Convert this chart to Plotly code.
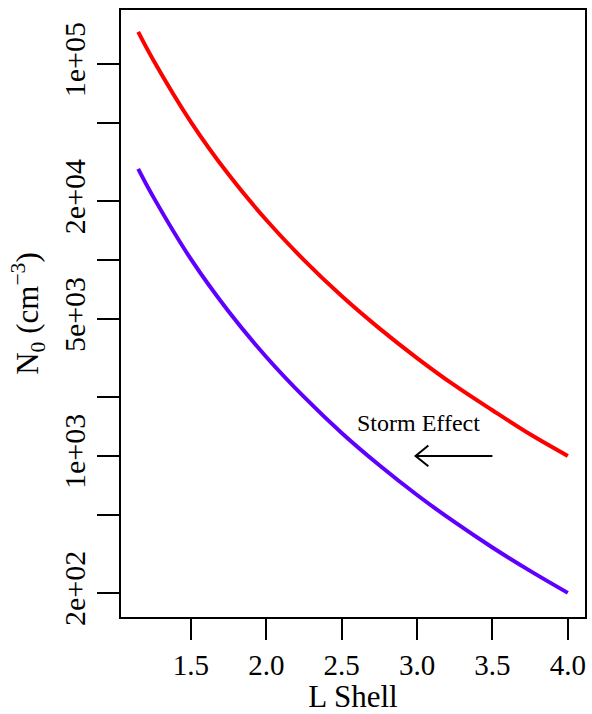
import math
import plotly.graph_objects as go

# L shell values and densities
L_shell = [1.15, 1.25, 1.5, 1.75, 2.0, 2.25, 2.5, 2.75, 3.0, 3.25, 3.5, 3.75, 4.0]
n0_red = [146000, 105000, 50600, 27300, 16000, 9990, 6550, 4480, 3160, 2290, 1710, 1290, 1000]
n0_purple = [29200, 21000, 10100, 5460, 3200, 2000, 1310, 896, 632, 459, 341, 259, 200]

x_ticks = [1.5, 2.0, 2.5, 3.0, 3.5, 4.0]
x_tick_labels = ["1.5", "2.0", "2.5", "3.0", "3.5", "4.0"]
y_ticks = [100000, 50000, 20000, 10000, 5000, 2000, 1000, 500, 200]
y_tick_labels = ["1e+05", "", "2e+04", "", "5e+03", "", "1e+03", "", "2e+02"]

# Storm effect arrow (tail, tip) and label
arrow_tail = (3.5, 1000)
arrow_tip = (2.99, 1000)
label_pos = (3.01, 1470)

FONT = "Liberation Serif, Times New Roman, serif"

fig = go.Figure()
fig.add_trace(go.Scatter(x=L_shell, y=n0_red, mode="lines", line=dict(color="#FF0000", width=4, shape="spline"),
                         showlegend=False, hoverinfo="skip"))
fig.add_trace(go.Scatter(x=L_shell, y=n0_purple, mode="lines", line=dict(color="#5F00FF", width=4, shape="spline"),
                         showlegend=False, hoverinfo="skip"))

# arrow shaft and open head
head_dx = 0.085
head_f = 1.13
fig.add_trace(go.Scatter(x=[arrow_tail[0], arrow_tip[0]], y=[arrow_tail[1], arrow_tip[1]], mode="lines",
                         line=dict(color="black", width=2), showlegend=False, hoverinfo="skip"))
fig.add_trace(go.Scatter(x=[arrow_tip[0] + head_dx, arrow_tip[0], arrow_tip[0] + head_dx],
                         y=[arrow_tip[1] * head_f, arrow_tip[1], arrow_tip[1] / head_f], mode="lines",
                         line=dict(color="black", width=2), showlegend=False, hoverinfo="skip"))

fig.add_annotation(x=label_pos[0], y=math.log10(label_pos[1]), text="Storm Effect", showarrow=False,
                   font=dict(family=FONT, size=24, color="black"), xanchor="center", yanchor="middle")

fig.update_layout(
    width=592, height=714,
    margin=dict(l=121, r=7, t=10, b=97),
    paper_bgcolor="white", plot_bgcolor="white",
    font=dict(family=FONT, color="black"),
    xaxis=dict(range=[1.036, 4.114], tickvals=x_ticks, ticktext=x_tick_labels, ticks="outside",
               ticklen=21, tickwidth=2, tickcolor="black", showgrid=False, zeroline=False,
               showline=True, linecolor="black", linewidth=2, mirror=True, automargin=False,
               tickfont=dict(family=FONT, size=29, color="black"),
               title=dict(text="L Shell", font=dict(family=FONT, size=31, color="black"), standoff=12)),
    yaxis=dict(type="log", range=[2.178, 5.276], tickvals=y_ticks, ticktext=y_tick_labels, ticks="outside",
               ticklen=22, tickwidth=2, tickcolor="black", showgrid=False, zeroline=False,
               showline=True, linecolor="black", linewidth=2, mirror=True, tickangle=-90, automargin=False,
               tickfont=dict(family=FONT, size=30, color="black"),
               title=dict(text="N<sub>0</sub> (cm<sup>−3</sup>)", font=dict(family=FONT, size=31, color="black"),
                          standoff=10)),
)

fig.write_html("out.html")
